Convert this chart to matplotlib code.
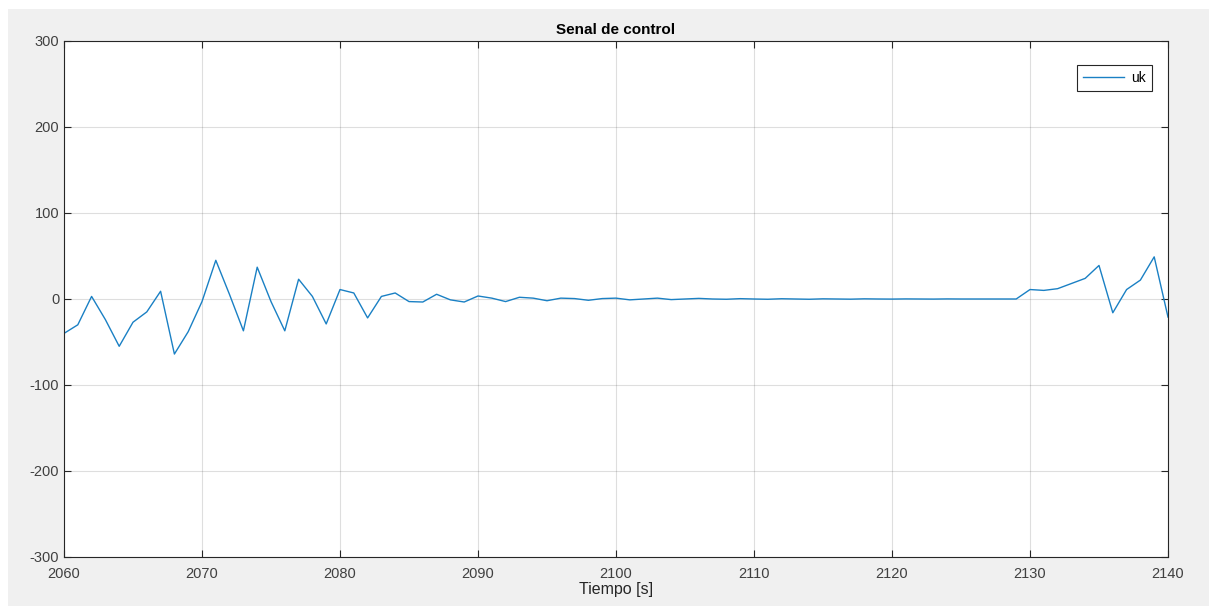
import numpy as np
import matplotlib.pyplot as plt
from matplotlib.patches import Rectangle

# sampled control signal, one sample per second
t = np.arange(2060, 2141)
uk = [-40, -30, 3, -24, -55, -27, -15, 9, -64, -38,
      -3, 45, 5, -37, 37, -3, -37, 23, 3, -29,
      11, 7, -22, 3, 7, -3, -3.5, 5.5, -1, -3.5,
      3.5, 1, -3, 2, 1, -2, 1, 0.5, -1.5, 0.5,
      1, -1, 0, 1, -0.7, 0, 0.7, 0, -0.3, 0.4,
      0, -0.3, 0.3, 0, -0.3, 0.2, 0, -0.2, 0.2, 0,
      -0.1, 0.1, 0, -0.1, 0.1, 0, 0, 0, 0, 0,
      11, 10, 12, 18, 24, 39, -16, 11, 22, 49,
      -21]

plt.rcParams['font.family'] = ['Liberation Sans', 'DejaVu Sans']
plt.rcParams['axes.unicode_minus'] = False

W, H = 1209, 606
fig = plt.figure(figsize=(W / 100, H / 100), dpi=100, facecolor='white')
fig.patches.append(Rectangle((8 / W, 0), 1, 1 - 9 / H, transform=fig.transFigure,
                             facecolor='#f0f0f0', edgecolor='none', zorder=-10))

ax = fig.add_axes([64 / W, 1 - 557 / H, (1168 - 64) / W, (557 - 41) / H])
ax.plot(t, uk, color='#1a80c4', linewidth=1.0, label='uk')

ax.set_xlim(2060, 2140)
ax.set_ylim(-300, 300)
ax.set_xticks(np.arange(2060, 2141, 10))
ax.set_yticks(np.arange(-300, 301, 100))
ax.grid(True, color='#262626', alpha=0.15, linewidth=0.8)
ax.tick_params(direction='in', top=True, right=True, labelsize=10.5,
               colors='#262626', labelcolor='#404040', length=5, width=0.8)
ax.tick_params(axis='x', pad=7)
for s in ax.spines.values():
    s.set_color('#262626')
    s.set_linewidth(0.8)

ax.set_title('Senal de control', fontsize=11, fontweight='bold', color='black', pad=5)
ax.set_xlabel('Tiempo [s]', fontsize=11.5, color='#262626', labelpad=1)

leg = ax.legend(loc='upper right', bbox_to_anchor=(0.9915, 0.966), fontsize=10,
                fancybox=False, framealpha=1, edgecolor='#262626',
                handlelength=3.0, handletextpad=0.5, borderpad=0.4)
leg.get_frame().set_linewidth(0.8)

plt.savefig('out.png', dpi=100, facecolor=fig.get_facecolor())
